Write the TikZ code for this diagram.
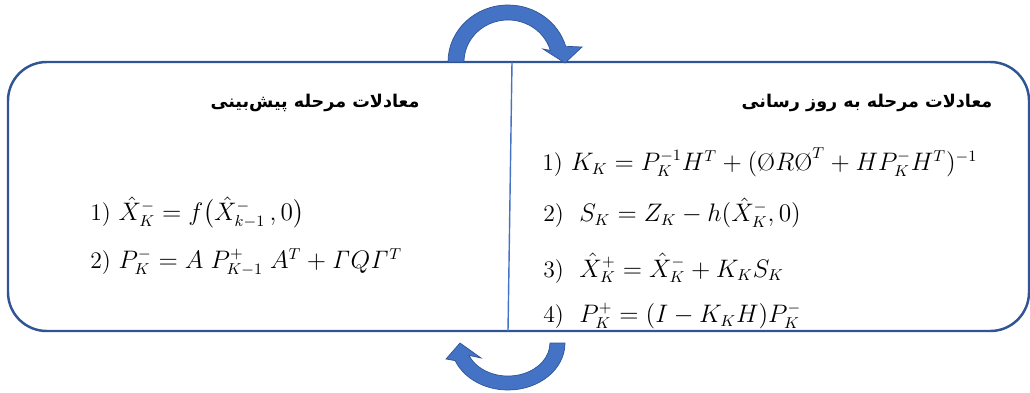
\documentclass[tikz,border=0pt]{standalone}
\usepackage{amsmath,amssymb}
\usepackage[no-math]{fontspec}
\usepackage{tikz}
\usetikzlibrary{positioning,calc}
\TeXXeTstate=1
\newfontfamily\farsifont[Script=Arabic]{DejaVu Sans}
\definecolor{kfframe}{HTML}{2F5597}
\definecolor{kfdiv}{HTML}{4472C4}
\definecolor{kfarrow}{HTML}{4472C4}
\newcommand{\slo}{\text{\upshape\O}}
\tikzset{
    frame/.style={draw=kfframe,line width=1.4pt,rounded corners=22pt},
    divider/.style={draw=kfdiv,line width=0.8pt},
    title/.style={font=\farsifont\bfseries\fontsize{10}{12}\selectfont,inner sep=0pt},
    eqn/.style={anchor=west,inner sep=0pt,font=\fontsize{13.5}{16}\selectfont},
    cyclearrow/.style={fill=kfarrow,draw=kfframe,line width=0.4pt},
}

\begin{document}
\begin{tikzpicture}[x=0.02cm,y=-0.02cm]
    \useasboundingbox (0,0) rectangle (1030,392);
    \draw[frame] (8,62) rectangle (1029,331);
    \coordinate (divtop) at (512,62);
    \coordinate (divbot) at (508,331);
    \draw[divider] (divtop) -- (divbot);

    \node[title] (predtitle) at (315,103) {\beginR معادلات مرحله پیش‌بینی\endR};
    \node[title] (updtitle) at (867,103) {\beginR معادلات مرحله به روز رسانی\endR};

    \node[eqn] (pred1) at (90,213) {1) $\hat{X}_K^- = f\big(\hat{X}_{k-1}^-\,,0\big)$};
    \node[eqn] (pred2) at (90,262) {2) $P_K^- = A\;P_{K-1}^+\;A^T + \mathit{\Gamma} Q \mathit{\Gamma}^T$};

    \node[eqn] (upd1) at (542,162) {1) $K_K = P_K^{-1} H^T + (\slo R \slo^T + H P_K^- H^T)^{-1}$};
    \node[eqn] (upd2) at (543,213) {2)\ \ $S_K = Z_K - h(\hat{X}_K^-,0)$};
    \node[eqn] (upd3) at (543,268) {3)\ \ $\hat{X}_K^+ = \hat{X}_K^- + K_K S_K$};
    \node[eqn] (upd4) at (543,316) {4)\ \ $P_K^+ = (I - K_K H) P_K^-$};

    % cycle arrows
    \path[cyclearrow] (448,62) arc[start angle=180,end angle=344,x radius=60,y radius=57]
        -- (582,47) -- (565,63) -- (543,49) -- (550.3,50.4)
        arc[start angle=344,end angle=180,x radius=44,y radius=42] -- cycle;
    \path[cyclearrow] (565,343) arc[start angle=0,end angle=158,x radius=57,y radius=47]
        -- (446,359) -- (460,343) -- (481,358) -- (469,355.4)
        arc[start angle=158,end angle=0,x radius=42,y radius=33] -- cycle;
\end{tikzpicture}
\end{document}
